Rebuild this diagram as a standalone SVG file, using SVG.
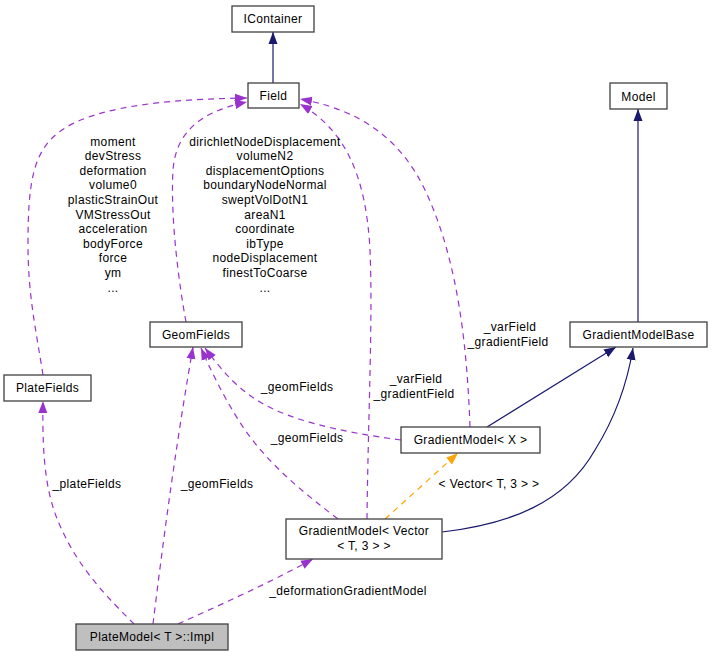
<svg xmlns="http://www.w3.org/2000/svg" width="712" height="656" viewBox="0 0 712 656">
<defs>
<style>
text{font-family:"Liberation Sans",Arial,sans-serif;font-size:12px;letter-spacing:0.35px;fill:#000;text-anchor:middle}
.node rect{fill:#fff;stroke:#404040;stroke-width:1.3}
.node.main rect{fill:#bfbfbf}
.inh{fill:none;stroke:#191970;stroke-width:1.2}
.use{fill:none;stroke:#9a32cd;stroke-width:1.2;stroke-dasharray:6,5}
.tpl{fill:none;stroke:#ffa500;stroke-width:1.2;stroke-dasharray:6,5}
</style>
<marker id="aInh" viewBox="0 0 12 10" refX="12" refY="5" markerWidth="12" markerHeight="10" markerUnits="userSpaceOnUse" orient="auto"><path d="M0,0.5 L12,5 L0,9.5 Z" fill="#191970"/></marker>
<marker id="aUse" viewBox="0 0 12 10" refX="12" refY="5" markerWidth="12" markerHeight="10" markerUnits="userSpaceOnUse" orient="auto"><path d="M0,0.5 L12,5 L0,9.5 Z" fill="#9a32cd"/></marker>
<marker id="aTpl" viewBox="0 0 12 10" refX="12" refY="5" markerWidth="12" markerHeight="10" markerUnits="userSpaceOnUse" orient="auto"><path d="M0,0.5 L12,5 L0,9.5 Z" fill="#ffa500"/></marker>
</defs>
<rect width="712" height="656" fill="#fff"/>
<g id="connectors">
<path class="inh" d="M273,83 L273,32" marker-end="url(#aInh)"/>
<path class="inh" d="M638,322 L638,109" marker-end="url(#aInh)"/>
<path class="inh" d="M487,427 L616,347" marker-end="url(#aInh)"/>
<path class="inh" d="M442,532 C510,524 565,503 595,450 C615,418 627,385 633,348" marker-end="url(#aInh)"/>
<path class="tpl" d="M385,519 L458,453" marker-end="url(#aTpl)"/>
<path class="use" d="M43,375 C36,330 28,295 28,245 C28,185 32,150 62,130 C100,104 180,99 247,98" marker-end="url(#aUse)"/>
<path class="use" d="M186,322 C180,290 170,220 173,170 C176,132 200,112 247,102" marker-end="url(#aUse)"/>
<path class="use" d="M470,427 C467,345 458,260 425,190 C400,138 360,110 300,99" marker-end="url(#aUse)"/>
<path class="use" d="M367,519 C368,420 373,320 370,250 C366,175 345,130 300,104" marker-end="url(#aUse)"/>
<path class="use" d="M401,440 C340,432 290,420 260,402 C240,390 225,375 205,348" marker-end="url(#aUse)"/>
<path class="use" d="M338,519 C300,490 270,465 245,430 C230,408 215,380 201,348" marker-end="url(#aUse)"/>
<path class="use" d="M134,624 C110,600 80,570 62,530 C46,497 42,460 43,401" marker-end="url(#aUse)"/>
<path class="use" d="M153,624 C162,550 175,450 193,347" marker-end="url(#aUse)"/>
<path class="use" d="M178,624 C220,605 265,585 313,559" marker-end="url(#aUse)"/>
<text x="113" y="145.5"><tspan x="113">moment</tspan><tspan x="113" dy="14.6">devStress</tspan><tspan x="113" dy="14.6">deformation</tspan><tspan x="113" dy="14.6">volume0</tspan><tspan x="113" dy="14.6">plasticStrainOut</tspan><tspan x="113" dy="14.6">VMStressOut</tspan><tspan x="113" dy="14.6">acceleration</tspan><tspan x="113" dy="14.6">bodyForce</tspan><tspan x="113" dy="14.6">force</tspan><tspan x="113" dy="14.6">ym</tspan><tspan x="113" dy="14.6">...</tspan></text>
<text x="265" y="145.5"><tspan x="265">dirichletNodeDisplacement</tspan><tspan x="265" dy="14.6">volumeN2</tspan><tspan x="265" dy="14.6">displacementOptions</tspan><tspan x="265" dy="14.6">boundaryNodeNormal</tspan><tspan x="265" dy="14.6">sweptVolDotN1</tspan><tspan x="265" dy="14.6">areaN1</tspan><tspan x="265" dy="14.6">coordinate</tspan><tspan x="265" dy="14.6">ibType</tspan><tspan x="265" dy="14.6">nodeDisplacement</tspan><tspan x="265" dy="14.6">finestToCoarse</tspan><tspan x="265" dy="14.6">...</tspan></text>
<text x="510" y="331">_varField</text>
<text x="508" y="345.5">_gradientField</text>
<text x="416" y="383">_varField</text>
<text x="414" y="398">_gradientField</text>
<text x="489" y="488">&lt; Vector&lt; T, 3 &gt; &gt;</text>
<text x="297" y="391">_geomFields</text>
<text x="307" y="442">_geomFields</text>
<text x="87" y="488">_plateFields</text>
<text x="217" y="488">_geomFields</text>
<text x="348" y="595">_deformationGradientModel</text>
</g>
<g id="IContainer" class="node"><rect x="232" y="6" width="82" height="26"/><text x="273" y="23">IContainer</text></g>
<g id="Field" class="node"><rect x="248" y="83" width="51" height="25"/><text x="273.5" y="100">Field</text></g>
<g id="Model" class="node"><rect x="610" y="83" width="57" height="26"/><text x="638.5" y="100.5">Model</text></g>
<g id="GeomFields" class="node"><rect x="150" y="322" width="92" height="25"/><text x="196" y="339">GeomFields</text></g>
<g id="PlateFields" class="node"><rect x="4" y="375" width="87" height="26"/><text x="47.5" y="392">PlateFields</text></g>
<g id="GradientModelBase" class="node"><rect x="570" y="322" width="137" height="25"/><text x="638.5" y="339">GradientModelBase</text></g>
<g id="GradientModelX" class="node"><rect x="401" y="427" width="139" height="26"/><text x="470.5" y="444">GradientModel&lt; X &gt;</text></g>
<g id="GradientModelVector" class="node"><rect x="286" y="519" width="156" height="40"/><text x="364" y="535">GradientModel&lt; Vector</text><text x="364" y="549.5">&lt; T, 3 &gt; &gt;</text></g>
<g id="PlateModelImpl" class="node main"><rect x="76" y="624" width="152" height="26"/><text x="152" y="641">PlateModel&lt; T &gt;::Impl</text></g>
</svg>
